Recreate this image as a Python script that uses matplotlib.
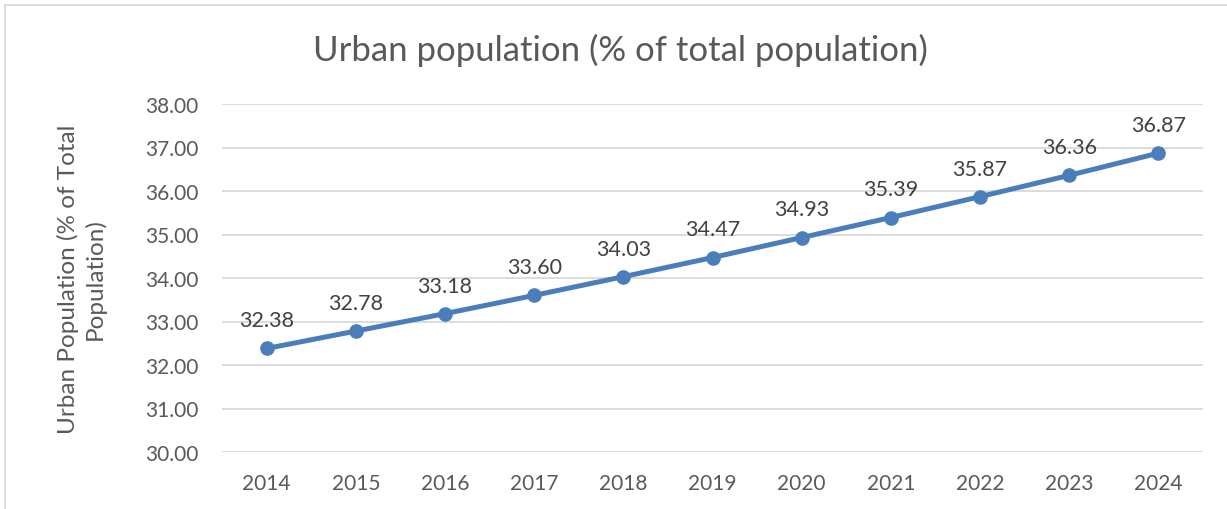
import matplotlib
matplotlib.use("Agg")
import matplotlib.pyplot as plt
from matplotlib.patches import Rectangle

plt.rcParams['font.family'] = ['Lato', 'DejaVu Sans']

# Data
years = ['2014', '2015', '2016', '2017', '2018', '2019', '2020', '2021', '2022', '2023', '2024']
urban_pct = [32.38, 32.78, 33.18, 33.60, 34.03, 34.47, 34.93, 35.39, 35.87, 36.36, 36.87]
y_ticks = [30, 31, 32, 33, 34, 35, 36, 37, 38]

text_color = '#595959'
line_color = '#4A7EBB'
grid_color = '#D9D9D9'

fig = plt.figure(figsize=(12.27, 5.10), dpi=100)
ax = fig.add_axes([222 / 1227, 1 - 453 / 510, (1203 - 222) / 1227, (453 - 105) / 510])

x = list(range(len(years)))
ax.plot(x, urban_pct, color=line_color, linewidth=3.6, marker='o', markersize=9.5, zorder=3)

# Data labels above points
for xi, v in zip(x, urban_pct):
    ax.annotate(f'{v:.2f}', (xi, v), xytext=(0, 13), textcoords='offset points',
                ha='center', va='bottom', fontsize=15.5, color='#404040')

ax.set_xlim(-0.5, len(years) - 0.5)
ax.set_ylim(30, 38)
ax.set_xticks(x)
ax.set_xticklabels(years)
ax.set_yticks(y_ticks)
ax.set_yticklabels([f'{t:.2f}' for t in y_ticks])
ax.tick_params(axis='both', length=0, labelsize=15, labelcolor=text_color)
ax.tick_params(axis='x', pad=15)
ax.tick_params(axis='y', pad=17)

ax.grid(axis='y', color=grid_color, linewidth=1.3)
ax.set_axisbelow(True)
for s in ax.spines.values():
    s.set_visible(False)

ax.set_ylabel('Urban Population (% of Total\nPopulation)', fontsize=17.5, color=text_color,
              labelpad=28, linespacing=1.3)

fig.text(620 / 1227, 1 - 50 / 510, 'Urban population (% of total population)',
         ha='center', va='center', fontsize=25, color=text_color)

# Chart border
fig.patches.append(Rectangle((5 / 1227, -0.02), 1.1, 1 - 6 / 510 + 0.02,
                             transform=fig.transFigure, fill=False,
                             edgecolor='#D9D9D9', linewidth=1.3))

fig.savefig('out.png', dpi=100, facecolor='white')
